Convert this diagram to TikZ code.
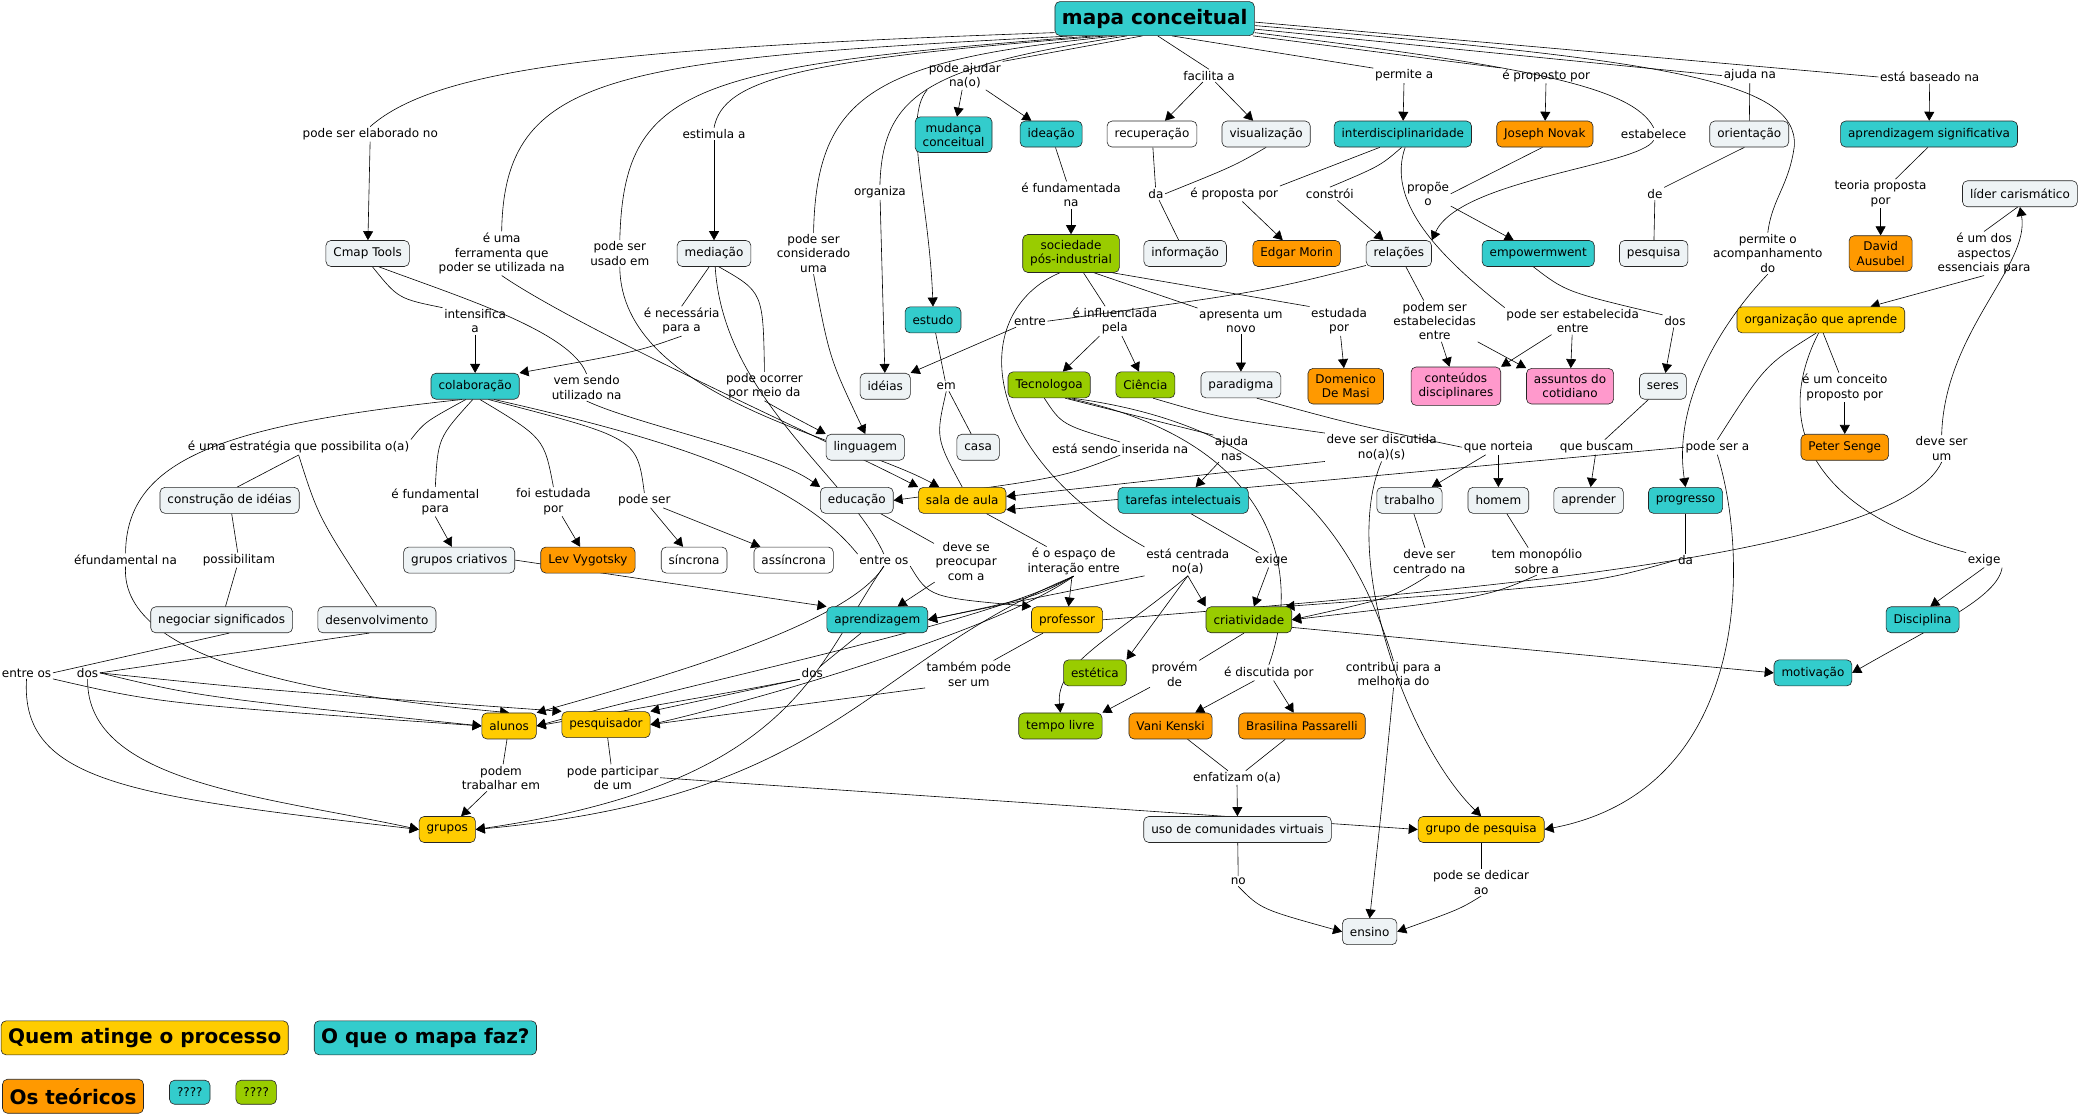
\documentclass[tikz,border=0pt]{standalone}
\usepackage{fontspec}
\setmainfont{DejaVu Sans}
\usetikzlibrary{arrows.meta}
\definecolor{cmteal}{RGB}{51,204,204}
\definecolor{cmgold}{RGB}{255,204,0}
\definecolor{cmorange}{RGB}{255,153,0}
\definecolor{cmgreen}{RGB}{153,204,0}
\definecolor{cmpink}{RGB}{255,153,204}
\definecolor{cmlight}{RGB}{238,243,245}
\pgfdeclarelayer{lines}
\pgfsetlayers{lines,main}
\tikzset{
cpt/.style={draw=black!85, line width=0.6pt, rounded corners=5pt, align=center, inner xsep=7.5pt, inner ysep=6pt, minimum height=26pt, font=\fontsize{12}{14.3}\selectfont}, % every concept box
cteal/.style={cpt, fill=cmteal},
cgold/.style={cpt, fill=cmgold},
corange/.style={cpt, fill=cmorange},
cgreen/.style={cpt, fill=cmgreen},
cpink/.style={cpt, fill=cmpink},
clight/.style={cpt, fill=cmlight},
cwhite/.style={cpt, fill=white},
bigbox/.style={font=\bfseries\fontsize{20}{24}\selectfont, inner xsep=7pt, inner ysep=4pt, minimum height=34pt}, % title and legend
lp/.style={font=\fontsize{12}{14.3}\selectfont, align=center, inner sep=1.5pt}, % linking phrases
ln/.style={line width=0.6pt}, % plain link
ar/.style={line width=0.6pt, -{Triangle[length=9pt,width=10pt]}}, % link with arrow head
}
\begin{document}
\begin{tikzpicture}[x=1.3272pt, y=-1.3272pt]
\useasboundingbox (0,0) rectangle (1568,840);

% concepts
\node[cteal, bigbox] (mc) at (870,14) {mapa conceitual};
\node[cteal] (mud) at (718.5,101.5) {mudança\\conceitual};
\node[cteal] (idea) at (792,101) {ideação};
\node[cwhite] (recup) at (868,101) {recuperação};
\node[clight] (visu) at (954,101) {visualização};
\node[cteal] (inter) at (1057,101) {interdisciplinaridade};
\node[corange] (novak) at (1164,101) {Joseph Novak};
\node[clight] (orient) at (1318,101) {orientação};
\node[cteal] (apsig) at (1453.5,101) {aprendizagem significativa};
\node[clight] (cmap) at (277,191) {Cmap Tools};
\node[clight] (med) at (538,191) {mediação};
\node[cgreen] (soc) at (807,191) {sociedade\\pós-industrial};
\node[clight] (info) at (893,191) {informação};
\node[corange] (morin) at (977,191) {Edgar Morin};
\node[clight] (rel) at (1054,191) {relações};
\node[cteal] (empow) at (1159,191) {empowermwent};
\node[clight] (pesq) at (1246,191) {pesquisa};
\node[corange] (ausubel) at (1417,191) {David\\Ausubel};
\node[clight] (lider) at (1522,146) {líder carismático};
\node[cteal] (estudo) at (703,241) {estudo};
\node[cgold] (org) at (1372,241) {organização que aprende};
\node[cteal] (colab) at (358,291) {colaboração};
\node[clight] (ideias) at (667,291) {idéias};
\node[cgreen] (tecno) at (790.5,290) {Tecnologoa};
\node[cgreen] (ciencia) at (863,290) {Ciência};
\node[clight] (parad) at (935,290) {paradigma};
\node[corange] (masi) at (1014,291) {Domenico\\De Masi};
\node[cpink] (conteud) at (1097,291) {conteúdos\\disciplinares};
\node[cpink] (assunt) at (1183,291) {assuntos do\\cotidiano};
\node[clight] (seres) at (1253,291) {seres};
\node[clight] (ling) at (652,337) {linguagem};
\node[clight] (casa) at (737,337) {casa};
\node[corange] (senge) at (1390,337) {Peter Senge};
\node[clight] (constr) at (173,377) {construção de idéias};
\node[clight] (educ) at (645.6,377) {educação};
\node[cgold] (sala) at (725,377) {sala de aula};
\node[cteal] (tarefas) at (891.5,377) {tarefas intelectuais};
\node[clight] (trab) at (1062,377) {trabalho};
\node[clight] (homem) at (1129,377) {homem};
\node[clight] (aprender) at (1197,377) {aprender};
\node[cteal] (progr) at (1270,377) {progresso};
\node[clight] (gcriat) at (346,422) {grupos criativos};
\node[corange] (vygot) at (443,422) {Lev Vygotsky};
\node[cwhite] (sincr) at (523,422) {síncrona};
\node[cwhite] (assincr) at (598,422) {assíncrona};
\node[clight] (negoc) at (167,467) {negociar significados};
\node[clight] (desenv) at (284,467) {desenvolvimento};
\node[cteal] (aprend) at (661,467) {aprendizagem};
\node[cgold] (prof) at (804,467) {professor};
\node[cgreen] (criat) at (941,467) {criatividade};
\node[cteal] (discip) at (1448.6,467) {Disciplina};
\node[cgreen] (estet) at (825,507) {estética};
\node[cteal] (motiv) at (1366,507) {motivação};
\node[cgold] (alunos) at (383.6,547) {alunos};
\node[cgold] (pesqr) at (456.6,546) {pesquisador};
\node[cgreen] (tempo) at (799,547) {tempo livre};
\node[corange] (vani) at (882,547) {Vani Kenski};
\node[corange] (brasil) at (981,547) {Brasilina Passarelli};
\node[cgold] (grupos) at (337,625) {grupos};
\node[clight] (uso) at (932.5,625) {uso de comunidades virtuais};
\node[cgold] (gpesq) at (1116,625) {grupo de pesquisa};
\node[clight] (ensino) at (1032,702) {ensino};

% legend
\node[cgold, bigbox] (leg1) at (109,782) {Quem atinge o processo};
\node[cteal, bigbox] (leg2) at (320.5,782) {O que o mapa faz?};
\node[corange, bigbox] (leg3) at (55,826) {Os teóricos};
\node[cteal, minimum height=24pt] (leg4) at (143,823) {????};
\node[cgreen, minimum height=24pt] (leg5) at (193,823) {????};

% linking phrases
\node[lp] (p_elab) at (279,101) {pode ser elaborado no};
\node[lp] (p_ferr) at (378,191) {é uma\\ferramenta que\\poder se utilizada na};
\node[lp] (p_usado) at (467,191) {pode ser\\usado em};
\node[lp] (p_estim) at (538,101) {estimula a};
\node[lp] (p_cons) at (613,191) {pode ser\\considerado\\uma};
\node[lp] (p_org) at (663,145) {organiza};
\node[lp] (p_ajud) at (727,57) {pode ajudar\\na(o)};
\node[lp] (p_facil) at (911,57) {facilita a};
\node[lp] (p_perm) at (1058,57) {permite a};
\node[lp] (p_prop) at (1165,57) {é proposto por};
\node[lp] (p_estab) at (1246,101) {estabelece};
\node[lp] (p_ajuda) at (1318.5,57) {ajuda na};
\node[lp] (p_base) at (1454,58) {está baseado na};
\node[lp] (p_acomp) at (1332,191) {permite o\\acompanhamento\\do};
\node[lp] (p_intens) at (358,242) {intensifica\\a};
\node[lp] (p_nec) at (513.6,242) {é necessária\\para a};
\node[lp] (p_vem) at (442,292) {vem sendo\\utilizado na};
\node[lp] (p_ocor) at (576,291) {pode ocorrer\\por meio da};
\node[lp] (p_em) at (713,291) {em};
\node[lp] (p_fund) at (807,147) {é fundamentada\\na};
\node[lp] (p_da1) at (871,146) {da};
\node[lp] (p_propm) at (930,146) {é proposta por};
\node[lp] (p_constr) at (1002,146) {constrói};
\node[lp] (p_propoe) at (1076,146) {propõe\\o};
\node[lp] (p_de) at (1247,146) {de};
\node[lp] (p_teoria) at (1417,146) {teoria proposta\\por};
\node[lp] (p_aspec) at (1495,191) {é um dos\\aspectos\\essenciais para};
\node[lp] (p_entre) at (776,242) {entre};
\node[lp] (p_infl) at (840,242) {é influenciada\\pela};
\node[lp] (p_apres) at (935,242) {apresenta um\\novo};
\node[lp] (p_estud) at (1009,242) {estudada\\por};
\node[lp] (p_podem) at (1081,242) {podem ser\\estabelecidas\\entre};
\node[lp] (p_pode) at (1185,242) {pode ser estabelecida\\entre};
\node[lp] (p_dos1) at (1262,242) {dos};
\node[lp] (p_conc) at (1390,292) {é um conceito\\proposto por};
\node[lp] (p_estrat) at (225,337) {é uma estratégia que possibilita o(a)};
\node[lp] (p_inser) at (844,338) {está sendo inserida na};
\node[lp] (p_ajnas) at (928,338) {ajuda\\nas};
\node[lp] (p_disc) at (1041,337) {deve ser discutida\\no(a)(s)};
\node[lp] (p_nort) at (1129,337) {que norteia};
\node[lp] (p_busc) at (1203,337) {que buscam};
\node[lp] (p_psa) at (1294,337) {pode ser a};
\node[lp] (p_dsu) at (1463,338) {deve ser\\um};
\node[lp] (p_fpara) at (328,378) {é fundamental\\para};
\node[lp] (p_estpor) at (417,378) {foi estudada\\por};
\node[lp] (p_pser) at (485.5,377) {pode ser};
\node[lp] (p_fna) at (94.6,422) {éfundamental na};
\node[lp] (p_possib) at (180,422) {possibilitam};
\node[lp] (p_eo1) at (666,422) {entre os};
\node[lp] (p_preoc) at (728,423) {deve se\\preocupar\\com a};
\node[lp] (p_esp) at (809,423) {é o espaço de\\interação entre};
\node[lp] (p_centr) at (895,423) {está centrada\\no(a)};
\node[lp] (p_exige1) at (958,422) {exige};
\node[lp] (p_centrna) at (1077,423) {deve ser\\centrado na};
\node[lp] (p_monop) at (1158,423) {tem monopólio\\sobre a};
\node[lp] (p_da2) at (1270,422) {da};
\node[lp] (p_exige2) at (1495,422) {exige};
\node[lp] (p_eo2) at (20,507) {entre os};
\node[lp] (p_dos2) at (66,507) {dos};
\node[lp] (p_dos3) at (612,507) {dos};
\node[lp] (p_tamb) at (730,508) {também pode\\ser um};
\node[lp] (p_prov) at (885,508) {provém\\de};
\node[lp] (p_discpor) at (956,507) {é discutida por};
\node[lp] (p_contr) at (1050,508) {contribui para a\\melhoria do};
\node[lp] (p_trab) at (377.5,586) {podem\\trabalhar em};
\node[lp] (p_part) at (461.7,586) {pode participar\\de um};
\node[lp] (p_enfat) at (932,586) {enfatizam o(a)};
\node[lp] (p_no) at (933,664) {no};
\node[lp] (p_dedic) at (1116,665) {pode se dedicar\\ao};

\begin{pgfonlayer}{lines}
% from mapa conceitual
\draw[ln] (mc.188) .. controls (470,36) and (330,50) .. (p_elab.north);
\draw[ln] (mc.192) .. controls (460,45) and (380,55) .. (p_ferr.north);
\draw[ln] (mc.196) .. controls (520,50) and (470,65) .. (p_usado.north);
\draw[ln] (mc.200) .. controls (600,45) and (545,60) .. (p_estim.north);
\draw[ln] (mc.205) .. controls (660,45) and (615,70) .. (p_cons.north);
\draw[ln] (mc.212) .. controls (700,50) and (665,70) .. (p_org.north);
\draw[ln] (mc.235) -- (p_ajud.north east);
\draw[ln] (mc.280) -- (p_facil.north);
\draw[ln] (mc.315) -- (p_perm.north west);
\draw[ln] (mc.350) -- (p_prop.north west);
\draw[ln] (mc.352) .. controls (1150,50) and (1230,65) .. (p_estab.north);
\draw[ln] (mc.354) -- (p_ajuda.west);
\draw[ln] (mc.356) .. controls (1250,45) and (1355,60) .. (1352,110) .. controls (1348,140) and (1335,150) .. (p_acomp.north);
\draw[ln] (mc.358) -- (p_base.west);
\draw[ar] (p_elab) -- (cmap);
\draw[ar] (p_estim) -- (med);
\draw[ar] (p_ajud) -- (mud);
\draw[ar] (p_ajud) -- (idea);
\draw[ar] (p_ajud.south west) .. controls (680,90) and (700,150) .. (estudo.north);
\draw[ar] (p_facil) -- (recup);
\draw[ar] (p_facil) -- (visu);
\draw[ar] (p_perm) -- (inter);
\draw[ar] (p_prop) -- (novak);
\draw[ar] (p_estab.south) .. controls (1235,125) and (1100,135) .. (rel.north east);
\draw[ln] (p_ajuda) -- (orient);
\draw[ar] (p_base) -- (apsig);
\draw[ar] (p_acomp.south) .. controls (1300,240) and (1260,300) .. (progr.north);
\draw[ar] (p_ferr.south) .. controls (440,250) and (620,330) .. (sala.north west);
\draw[ar] (p_usado.south) .. controls (468,300) and (640,330) .. (sala.150);
\draw[ar] (p_cons.south) .. controls (625,270) .. (ling.north);
\draw[ar] (p_org) -- (ideias);

% left part
\draw[ln] (cmap.-70) .. controls (300,225) .. (p_intens.north west);
\draw[ar] (p_intens) -- (colab);
\draw[ln] (cmap.-50) .. controls (350,225) and (430,250) .. (p_vem.north);
\draw[ar] (p_vem.south) .. controls (480,320) and (580,340) .. (educ.north west);
\draw[ln] (med.-110) -- (p_nec.north);
\draw[ar] (p_nec.south) .. controls (480,265) .. (colab.north east);
\draw[ln] (med.-70) .. controls (575,220) .. (p_ocor.north);
\draw[ar] (p_ocor.south) .. controls (590,310) .. (ling.north west);
\draw[ln] (med.-85) .. controls (545,300) and (640,360) .. (p_eo1.north);
\draw[ln] (colab.-125) .. controls (320,318) .. (p_estrat.north east);
\draw[ln] (colab.-135) .. controls (170,320) and (95,345) .. (p_fna.north);
\draw[ln] (p_estrat.south) -- (constr.60);
\draw[ln] (p_estrat.south) .. controls (240,390) .. (desenv.north);
\draw[ln] (constr) -- (p_possib);
\draw[ln] (p_possib) -- (negoc);
\draw[ln] (negoc.-60) -- (p_eo2.east);
\draw[ln] (desenv.-120) -- (p_dos2.east);
\draw[ar] (p_eo2.south east) .. controls (120,530) .. (alunos.west);
\draw[ar] (p_eo2.south) .. controls (15,590) and (100,600) .. (grupos.west);
\draw[ar] (p_dos2.east) .. controls (150,525) .. (alunos.west);
\draw[ar] (p_dos2.east) .. controls (200,520) .. (pesqr.north west);
\draw[ar] (p_dos2.south) .. controls (65,590) and (200,600) .. (grupos.west);
\draw[ar] (p_fna.south) .. controls (90,500) and (250,525) .. (alunos.north);
\draw[ln] (colab.-100) .. controls (330,330) .. (p_fpara.north);
\draw[ar] (p_fpara.south) -- (gcriat);
\draw[ln] (colab.-70) .. controls (410,330) .. (p_estpor.north);
\draw[ar] (p_estpor) -- (vygot);
\draw[ln] (colab.-45) .. controls (480,330) .. (p_pser.north);
\draw[ar] (p_pser) -- (sincr);
\draw[ar] (p_pser) -- (assincr);
\draw[ln] (colab.-35) .. controls (500,330) and (600,360) .. (p_eo1.north west);
\draw[ar] (p_eo1.south) .. controls (640,470) and (500,510) .. (alunos.north east);
\draw[ar] (p_eo1.south east) .. controls (700,450) .. (prof.north west);
\draw[ar] (p_eo1.south) .. controls (615,500) and (600,590) .. (grupos.east);
\draw[ar] (gcriat.east) -- (aprend.north west);
\draw[ln] (educ) -- (p_preoc);
\draw[ar] (p_preoc) -- (aprend);
\draw[ln] (sala) -- (p_esp);
\draw[ar] (p_esp) -- (prof);
\draw[ar] (p_esp.south) .. controls (780,450) .. (aprend.east);
\draw[ar] (p_esp.south) .. controls (760,470) and (600,520) .. (pesqr.east);
\draw[ar] (p_esp.south) .. controls (740,470) and (540,510) .. (alunos.east);
\draw[ar] (p_esp.south) .. controls (650,500) and (630,600) .. (grupos.east);
\draw[ln] (aprend) -- (p_dos3);
\draw[ar] (p_dos3.south west) .. controls (560,520) .. (alunos.east);
\draw[ar] (p_dos3.south west) -- (pesqr.north east);
\draw[ln] (prof) -- (p_tamb);
\draw[ar] (p_tamb.south west) -- (pesqr.east);
\draw[ln] (alunos) -- (p_trab);
\draw[ar] (p_trab) -- (grupos);
\draw[ln] (pesqr) -- (p_part);
\draw[ar] (p_part.east) -- (gpesq.west);

% middle part
\draw[ln] (idea) -- (p_fund);
\draw[ar] (p_fund) -- (soc);
\draw[ln] (recup) -- (p_da1);
\draw[ln] (visu.south) .. controls (930,125) .. (p_da1.east);
\draw[ln] (p_da1) -- (info);
\draw[ln] (estudo) -- (p_em);
\draw[ln] (p_em) -- (casa);
\draw[ln] (p_em.south) .. controls (705,330) .. (sala.north);
\draw[ln] (soc) -- (p_infl);
\draw[ar] (p_infl) -- (tecno);
\draw[ar] (p_infl) -- (ciencia);
\draw[ln] (soc.-40) -- (p_apres.north west);
\draw[ln] (soc.-25) -- (p_estud.north west);
\draw[ar] (p_apres) -- (parad);
\draw[ar] (p_estud) -- (masi);
\draw[ln] (soc.-120) .. controls (730,235) and (735,340) .. (p_centr.north west);
\draw[ar] (p_centr.south west) -- (aprend.east);
\draw[ar] (p_centr.south) -- (criat.north west);
\draw[ar] (p_centr.south) -- (estet.north east);
\draw[ar] (p_centr.south) .. controls (840,480) and (795,500) .. (tempo.north);
\draw[ln] (tecno.-110) .. controls (800,320) .. (p_inser.north);
\draw[ar] (p_inser.south) .. controls (800,360) .. (educ.east);
\draw[ln] (tecno.-40) -- (p_ajnas.north west);
\draw[ar] (p_ajnas) -- (tarefas);
\draw[ln] (tecno.-35) .. controls (950,330) and (985,420) .. (p_discpor.north);
\draw[ln] (tecno.-30) .. controls (960,320) and (1020,400) .. (p_contr.north);
\draw[ar] (p_contr.south) .. controls (1042,600) .. (ensino.north);
\draw[ln] (tarefas.-60) -- (p_exige1);
\draw[ar] (p_exige1) -- (criat);
\draw[ln] (ciencia.-60) .. controls (920,315) .. (p_disc.north west);
\draw[ar] (p_disc.south west) -- (sala.5);
\draw[ar] (p_disc.south) .. controls (1010,420) and (1060,560) .. (gpesq.north);
\draw[ln] (criat.-110) -- (p_prov.north east);
\draw[ar] (p_prov) -- (tempo.north east);
\draw[ar] (criat.-10) -- (motiv.west);
\draw[ar] (p_discpor) -- (vani);
\draw[ar] (p_discpor) -- (brasil);
\draw[ln] (vani) -- (p_enfat);
\draw[ln] (brasil) -- (p_enfat);
\draw[ar] (p_enfat) -- (uso);
\draw[ln] (uso) -- (p_no);
\draw[ar] (p_no.south) .. controls (950,685) .. (ensino.west);
\draw[ln] (gpesq) -- (p_dedic);
\draw[ar] (p_dedic.south) .. controls (1100,685) .. (ensino.east);

% right part
\draw[ln] (inter.-150) -- (p_propm.north east);
\draw[ar] (p_propm) -- (morin);
\draw[ln] (inter.-95) .. controls (1040,125) .. (p_constr.north);
\draw[ar] (p_constr) -- (rel);
\draw[ln] (inter.-80) .. controls (1045,150) and (1080,190) .. (p_pode.north west);
\draw[ln] (novak.-100) -- (p_propoe.east);
\draw[ar] (p_propoe) -- (empow);
\draw[ln] (orient.-110) -- (p_de.north east);
\draw[ln] (p_de) -- (pesq);
\draw[ln] (apsig.-95) -- (p_teoria);
\draw[ar] (p_teoria) -- (ausubel);
\draw[ln] (lider.-100) -- (p_aspec.north);
\draw[ar] (p_aspec.south) -- (org.15);
\draw[ln] (rel.-160) .. controls (950,220) .. (p_entre.east);
\draw[ar] (p_entre) -- (ideias.north east);
\draw[ln] (rel) -- (p_podem);
\draw[ar] (p_podem) -- (conteud);
\draw[ar] (p_podem.south east) -- (assunt.north west);
\draw[ar] (p_pode) -- (conteud.north east);
\draw[ar] (p_pode) -- (assunt);
\draw[ln] (empow.-110) .. controls (1180,220) .. (p_dos1.north west);
\draw[ar] (p_dos1) -- (seres);
\draw[ln] (seres) -- (p_busc);
\draw[ar] (p_busc) -- (aprender);
\draw[ln] (parad.-40) .. controls (1020,320) .. (p_nort.west);
\draw[ar] (p_nort) -- (trab);
\draw[ar] (p_nort) -- (homem);
\draw[ln] (trab) -- (p_centrna);
\draw[ar] (p_centrna.south) .. controls (1050,450) .. (criat.east);
\draw[ln] (homem) -- (p_monop);
\draw[ar] (p_monop.south) .. controls (1120,450) .. (criat.east);
\draw[ln] (progr) -- (p_da2);
\draw[ar] (p_da2.west) .. controls (1200,440) .. (criat.20);
\draw[ln] (org.-80) -- (p_conc);
\draw[ar] (p_conc) -- (senge);
\draw[ln] (org.-110) .. controls (1330,275) .. (p_psa.north);
\draw[ar] (p_psa.west) -- (sala.-12);
\draw[ar] (p_psa.south) .. controls (1318,420) and (1320,595) .. (gpesq.east);
\draw[ln] (org.-100) .. controls (1330,330) and (1380,390) .. (p_exige2.north west);
\draw[ar] (p_exige2.south) -- (discip.60);
\draw[ar] (p_exige2.south east) .. controls (1505,450) and (1460,470) .. (motiv.east);
\draw[ln] (prof.east) .. controls (1100,445) and (1430,420) .. (p_dsu.south);
\draw[ar] (p_dsu.north) .. controls (1465,250) and (1530,200) .. (lider.south);
\end{pgfonlayer}
\end{tikzpicture}
\end{document}
